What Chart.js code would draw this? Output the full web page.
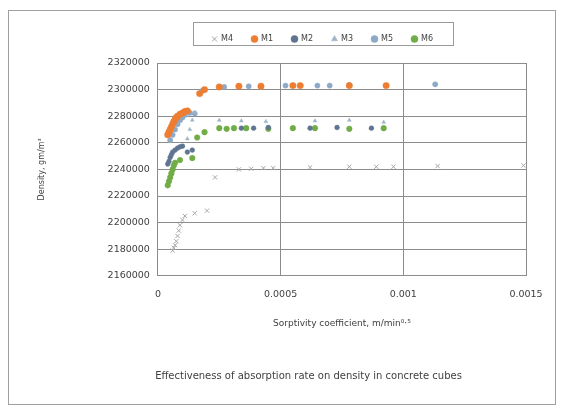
<!DOCTYPE html>
<html>
<head>
<meta charset="utf-8">
<script src="https://cdn.jsdelivr.net/npm/chart.js@4.4.1/dist/chart.umd.min.js"></script>
<style>
  html, body { margin: 0; padding: 0; background: #fff; }
</style>
</head>
<body>
<canvas id="grafico" width="563" height="412"></canvas>
<script>
// valores (coeficiente de sorptividade x densidade)
const m4X = [0.00006, 0.000065, 0.00007, 0.000075, 0.00008, 0.000085, 0.00009, 0.0001, 0.00011, 0.00015, 0.0002, 0.000233, 0.00033, 0.00038, 0.00043, 0.00047, 0.00062, 0.00078, 0.00089, 0.00096, 0.00114, 0.00149];
const m4Y = [2179000, 2181000, 2183000, 2186000, 2190000, 2194000, 2198000, 2202000, 2205000, 2207000, 2209000, 2234000, 2240000, 2240500, 2241000, 2241000, 2241500, 2242000, 2242000, 2242000, 2242500, 2243000];

const m1X = [0.00004, 0.000045, 0.00005, 0.000055, 0.00006, 0.000065, 0.00007, 0.000075, 0.00008, 0.00009, 0.0001, 0.00011, 0.00012, 0.00017, 0.00019, 0.00025, 0.00033, 0.00042, 0.00055, 0.00058, 0.00078, 0.00093];
const m1Y = [2266000, 2268000, 2270000, 2272000, 2274000, 2276000, 2277500, 2279000, 2280000, 2281500, 2282500, 2283500, 2284000, 2297000, 2300000, 2302000, 2302500, 2302500, 2303000, 2303000, 2303000, 2303000];

const m2X = [0.00004, 0.000045, 0.00005, 0.000055, 0.00006, 0.00007, 0.00008, 0.00009, 0.0001, 0.00012, 0.00014, 0.00034, 0.00039, 0.00045, 0.00062, 0.00073, 0.00087];
const m2Y = [2244000, 2246000, 2249000, 2251000, 2253000, 2254500, 2256000, 2257000, 2257500, 2253000, 2254500, 2271000, 2271000, 2271500, 2271000, 2271500, 2271000];

const m3X = [0.00012, 0.00013, 0.00014, 0.00015, 0.00025, 0.00034, 0.00044, 0.00064, 0.00078, 0.00092];
const m3Y = [2263000, 2270000, 2277000, 2283000, 2277000, 2276500, 2276000, 2276500, 2277000, 2275500];

const m5X = [0.00005, 0.00006, 0.00007, 0.00008, 0.00009, 0.0001, 0.00011, 0.00013, 0.00015, 0.00018, 0.00027, 0.00037, 0.00052, 0.00065, 0.0007, 0.00078, 0.00113];
const m5Y = [2262000, 2266000, 2270000, 2274000, 2277000, 2279000, 2281000, 2282500, 2282000, 2299000, 2302000, 2302500, 2303000, 2303000, 2303000, 2303500, 2304000];

const m6X = [0.00004, 0.000045, 0.00005, 0.000055, 0.00006, 0.000065, 0.00007, 0.00009, 0.00014, 0.00016, 0.00019, 0.00025, 0.00028, 0.00031, 0.00036, 0.00045, 0.00055, 0.00064, 0.00078, 0.00092];
const m6Y = [2228000, 2231000, 2234000, 2237000, 2240000, 2243000, 2245000, 2247000, 2248500, 2264000, 2268000, 2271000, 2270500, 2271000, 2271000, 2270500, 2271000, 2271000, 2270500, 2271000];

const yTicks = [2160000, 2180000, 2200000, 2220000, 2240000, 2260000, 2280000, 2300000, 2320000];
const xTicks = [0, 0.0005, 0.001, 0.0015];
const xTickLabels = ["0", "0.0005", "0.001", "0.0015"];

function pontos(xs, ys) {
  return xs.map((x, i) => ({ x: x, y: ys[i] }));
}

const series = [
  { label: "M4", xs: m4X, ys: m4Y, cor: "#a6a6a6", estilo: "crossRot", raio: 3 },
  { label: "M1", xs: m1X, ys: m1Y, cor: "#ed7d31", estilo: "circle", raio: 3.2 },
  { label: "M2", xs: m2X, ys: m2Y, cor: "#5f7491", estilo: "circle", raio: 2.4 },
  { label: "M3", xs: m3X, ys: m3Y, cor: "#9fb4c8", estilo: "triangle", raio: 2.2 },
  { label: "M5", xs: m5X, ys: m5Y, cor: "#8da9c6", estilo: "circle", raio: 2.6 },
  { label: "M6", xs: m6X, ys: m6Y, cor: "#70ad47", estilo: "circle", raio: 2.8 }
];

const fonte = { family: "DejaVu Sans", size: 8 };
const fonteTicks = { family: "DejaVu Sans", size: 9.5 };

// moldura do gráfico e caixa da legenda
const molduraPlugin = {
  id: "moldura",
  beforeInit(chart) {
    const lg = chart.legend;
    const fitOriginal = lg.fit;
    lg.fit = function () {
      fitOriginal.call(this);
      this.height += 10;
    };
  },
  beforeDraw(chart) {
    const ctx = chart.ctx;
    ctx.save();
    ctx.fillStyle = "#fff";
    ctx.fillRect(0, 0, chart.width, chart.height);
    ctx.restore();
  },
  afterLayout(chart) {
    const lg = chart.legend;
    lg.left += 43;
    lg.right += 43;
    const t = chart.titleBlock;
    if (t) { t.left += 29; t.right += 29; }
  },
  afterDraw(chart) {
    const ctx = chart.ctx;
    ctx.save();
    ctx.strokeStyle = "#a0a0a0";
    ctx.lineWidth = 1;
    ctx.strokeRect(8.5, 10.5, 547, 394);
    const lg = chart.legend;
    const w = lg.lineWidths[0] + 20;
    const cx = (lg.left + lg.right) / 2;
    ctx.strokeStyle = "#9a9a9a";
    ctx.strokeRect(Math.round(cx - w / 2) + 0.5, lg.top + 6.5, Math.round(w), 23);
    ctx.restore();
  }
};

new Chart(document.getElementById("grafico"), {
  type: "scatter",
  data: {
    datasets: series.map((s) => ({
      label: s.label,
      data: pontos(s.xs, s.ys),
      pointStyle: s.estilo,
      pointRadius: s.raio,
      pointHoverRadius: s.raio,
      backgroundColor: s.cor,
      borderColor: s.cor,
      borderWidth: s.estilo === "crossRot" ? 1 : 0.5
    }))
  },
  options: {
    responsive: false,
    animation: false,
    layout: { padding: { top: 16, left: 33, right: 37, bottom: 30 } },
    plugins: {
      legend: {
        position: "top",
        labels: {
          usePointStyle: true,
          boxWidth: 5,
          boxHeight: 5,
          padding: 19,
          color: "#404040",
          font: fonte
        }
      },
      title: {
        display: true,
        position: "bottom",
        text: "Effectiveness of absorption rate on density in concrete cubes",
        color: "#404040",
        font: { family: "DejaVu Sans", size: 10, weight: "normal" },
        padding: { top: 37, bottom: 0 }
      },
      tooltip: { enabled: false }
    },
    scales: {
      x: {
        type: "linear",
        min: 0,
        max: 0.0015,
        afterBuildTicks(axis) { axis.ticks = xTicks.map((v) => ({ value: v })); },
        ticks: {
          color: "#404040",
          font: fonteTicks,
          padding: 13,
          callback: (v) => xTickLabels[xTicks.indexOf(v)]
        },
        grid: { color: "#8c8c8c", drawTicks: false },
        border: { color: "#8c8c8c" },
        title: {
          display: true,
          text: "Sorptivity coefficient, m/min⁰·⁵",
          color: "#404040",
          font: { family: "DejaVu Sans", size: 9 },
          padding: { top: 5 }
        }
      },
      y: {
        min: 2160000,
        max: 2320000,
        afterBuildTicks(axis) { axis.ticks = yTicks.map((v) => ({ value: v })); },
        ticks: {
          color: "#404040",
          font: fonteTicks,
          padding: 8,
          callback: (v) => String(v)
        },
        grid: { color: "#8c8c8c", drawTicks: false },
        border: { color: "#8c8c8c" },
        title: {
          display: true,
          text: "Density, gm/m³",
          color: "#404040",
          font: fonte,
          padding: { bottom: 53 }
        }
      }
    }
  },
  plugins: [molduraPlugin]
});
</script>
</body>
</html>
